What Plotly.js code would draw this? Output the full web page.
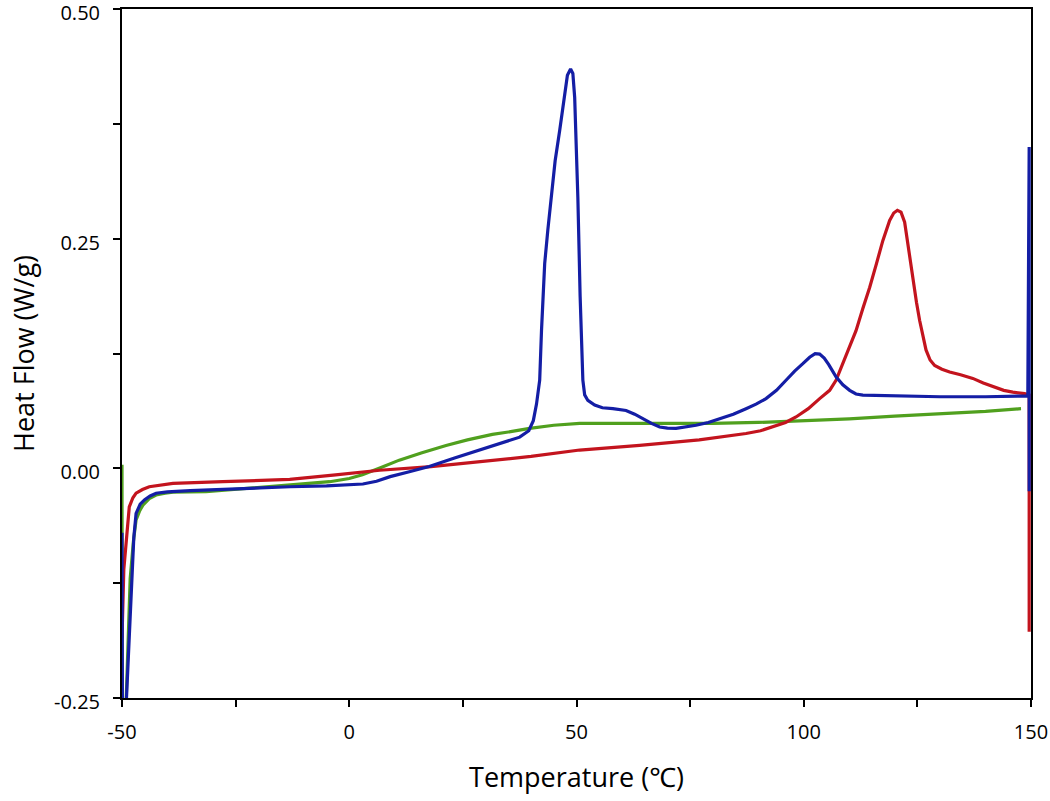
<!DOCTYPE html>
<html>
<head>
<meta charset="utf-8">
<script src="https://cdn.plot.ly/plotly-3.0.1.min.js"></script>
<style>html,body{margin:0;padding:0;background:#fff;}#chart{width:1050px;height:801px;}</style>
</head>
<body>
<div id="chart"></div>
<script>
// Blue trace
var blueX = [-50, -49.9, -49.2, -48.0, -47.4, -46.9, -46.0, -45.0, -43.8, -42.5, -40, -35, -25, -13, -5, 0, 3, 6, 9, 13, 17.6, 23, 28.7, 33, 37.5, 39.5, 40.5, 41.2, 41.9, 42.3, 43.0, 43.7, 44.4, 45.3, 46.3, 47.4, 48.0, 48.7, 49.2, 49.6, 50.0, 50.3, 50.8, 51.1, 51.4, 51.8, 52.5, 54, 55.7, 58, 60.9, 62.8, 64.5, 66.5, 68.3, 70, 71.9, 74, 76.3, 79, 81.5, 84.5, 87.3, 89.5, 91.7, 94, 96.1, 98, 99.8, 101.3, 102.5, 103.5, 104.5, 105.5, 107.1, 108.6, 110.1, 111.5, 113, 120, 130, 140, 149.3, 149.6, 149.6];
var blueY = [-0.07, -0.27, -0.27, -0.13, -0.075, -0.049, -0.039, -0.034, -0.030, -0.027, -0.0255, -0.0243, -0.022, -0.020, -0.019, -0.018, -0.017, -0.014, -0.009, -0.004, 0.002, 0.011, 0.020, 0.027, 0.034, 0.041, 0.052, 0.070, 0.096, 0.150, 0.223, 0.260, 0.295, 0.335, 0.368, 0.411, 0.428, 0.435, 0.430, 0.404, 0.350, 0.295, 0.187, 0.130, 0.096, 0.080, 0.074, 0.069, 0.066, 0.065, 0.063, 0.059, 0.054, 0.049, 0.045, 0.0438, 0.0435, 0.045, 0.047, 0.050, 0.054, 0.059, 0.065, 0.070, 0.076, 0.085, 0.096, 0.106, 0.114, 0.121, 0.125, 0.1245, 0.120, 0.113, 0.0996, 0.091, 0.085, 0.081, 0.0797, 0.079, 0.078, 0.078, 0.079, 0.35, -0.025];

// Green trace
var greenX = [-50, -49.95, -49.2, -48.2, -47.5, -46.9, -46.1, -45.4, -44, -42.5, -40.5, -38.8, -31.5, -20, -13, -4.3, 0, 2.9, 7, 11, 16, 21.3, 26, 31.5, 35.5, 39.7, 45, 50.7, 60, 70, 80, 90, 100, 110, 120, 132, 140, 147.8];
var greenY = [0.004, -0.27, -0.27, -0.12, -0.08, -0.056, -0.046, -0.040, -0.033, -0.029, -0.027, -0.026, -0.0254, -0.021, -0.018, -0.0145, -0.011, -0.007, 0.001, 0.009, 0.017, 0.025, 0.031, 0.037, 0.040, 0.0435, 0.047, 0.049, 0.049, 0.049, 0.049, 0.050, 0.052, 0.054, 0.057, 0.060, 0.062, 0.065];

// Red trace
var redX = [-50, -49.6, -48.4, -47.6, -46.9, -45.5, -44, -41, -38.8, -27.8, -13.1, -3, 6.7, 18, 28.7, 40, 50.7, 63.9, 77, 82, 87.3, 90.5, 93.1, 96, 98.3, 101, 103.5, 105.7, 107.1, 109.3, 111.5, 113, 114.5, 116, 117.4, 118.9, 119.8, 120.6, 121.4, 122.2, 123.1, 124, 124.8, 125.5, 126.2, 126.9, 127.8, 128.8, 130.4, 132.1, 134.5, 137.2, 139.5, 141.6, 144, 146, 148.6, 149.6, 149.6];
var redY = [-0.185, -0.11, -0.042, -0.032, -0.027, -0.023, -0.020, -0.018, -0.0163, -0.0145, -0.012, -0.007, -0.002, 0.002, 0.007, 0.013, 0.020, 0.025, 0.031, 0.034, 0.038, 0.041, 0.045, 0.050, 0.056, 0.065, 0.076, 0.085, 0.096, 0.122, 0.150, 0.174, 0.197, 0.223, 0.248, 0.270, 0.278, 0.281, 0.279, 0.268, 0.238, 0.205, 0.181, 0.161, 0.144, 0.129, 0.118, 0.112, 0.108, 0.105, 0.102, 0.098, 0.093, 0.089, 0.085, 0.083, 0.0815, 0.080, -0.178];

// Tick labels
var xTickVals = [-50, -25, 0, 25, 50, 75, 100, 125, 150];
var xTickText = ["-50", "", "0", "", "50", "", "100", "", "150"];
var yTickVals = [-0.25, -0.125, 0, 0.125, 0.25, 0.375, 0.5];
var yTickText = ["-0.25", "", "0.00", "", "0.25", "", "0.50"];

var font = "Open Sans, Noto Sans, sans-serif";

var traces = [
  {x: greenX, y: greenY, mode: "lines", line: {color: "rgb(80,160,30)", width: 3.2}},
  {x: redX, y: redY, mode: "lines", line: {color: "rgb(195,20,30)", width: 3.2}},
  {x: blueX, y: blueY, mode: "lines", line: {color: "rgb(20,30,165)", width: 3.2}}
];

var layout = {
  width: 1050, height: 801,
  margin: {l: 122, r: 19, t: 9, b: 103},
  paper_bgcolor: "#fff", plot_bgcolor: "#fff",
  showlegend: false,
  font: {family: font, color: "#000"},
  xaxis: {
    range: [-50, 150], showgrid: false, zeroline: false,
    showline: true, linecolor: "#000", linewidth: 2, mirror: true,
    ticks: "outside", ticklen: 7, tickwidth: 2, tickcolor: "#000",
    tickvals: xTickVals, ticktext: xTickText, ticklabeloverflow: "allow",
    tickfont: {size: 20, family: font}, ticklabelstandoff: 8,
    title: {text: "Temperature (℃)", font: {size: 27, family: font}, standoff: 24}
  },
  yaxis: {
    range: [-0.25, 0.5002], showgrid: false, zeroline: false,
    showline: true, linecolor: "#000", linewidth: 2, mirror: true,
    ticks: "outside", ticklen: 7, tickwidth: 2, tickcolor: "#000",
    tickvals: yTickVals, ticktext: yTickText, ticklabeloverflow: "allow",
    tickfont: {size: 20, family: font}, ticklabelstandoff: 9, ticklabelshift: 4,
    title: {text: "Heat Flow (W/g)", font: {size: 27, family: font}, standoff: 12}
  }
};

Plotly.newPlot("chart", traces, layout, {displayModeBar: false, staticPlot: true});
</script>
</body>
</html>
